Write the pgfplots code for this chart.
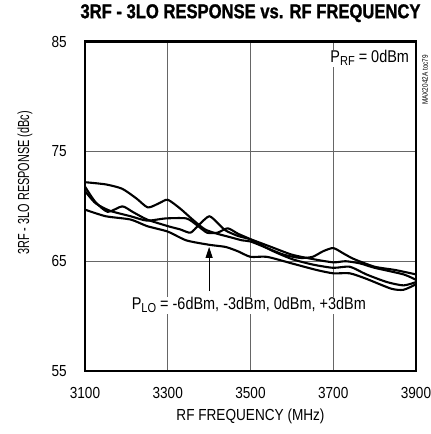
\documentclass[border=0pt]{standalone}
\usepackage{fontspec}
\setmainfont[FakeStretch=0.85]{Liberation Sans}
\newfontfamily\plainfont{Liberation Sans}
\newfontfamily\titlefont[FakeStretch=0.83, FakeBold=1.2]{Liberation Sans Bold}
\usepackage{pgfplots}
\pgfplotsset{compat=1.18}
\usetikzlibrary{arrows.meta}
\begin{document}
\begin{tikzpicture}
\useasboundingbox (-85pt,-63pt) rectangle (346pt,371pt);
\begin{axis}[
  at={(0,0)}, anchor=south west,
  scale only axis, width=331pt, height=329.3pt,
  xmin=3100, xmax=3900, ymin=55, ymax=85,
  xtick={3100,3300,3500,3700,3900}, ytick={55,65,75,85},
  grid=major, major grid style={black!60, line width=0.8pt},
  axis line style={line width=2.4pt},
  major tick length=0pt,
  clip=false,
  tick label style={font=\fontsize{16}{16}\selectfont, inner sep=0pt},
  /pgf/number format/assume math mode=true,
  /pgf/number format/1000 sep={},
  xticklabel style={anchor=center, yshift=-22pt},
  yticklabel style={anchor=east, xshift=-18pt},
  every axis plot/.append style={line width=2.1pt, line join=round, smooth, tension=0.4, mark=none},
  cycle list={black\\black\\black\\black\\},
]
\addplot coordinates {
(3100,72.2) (3150,72.0) (3190,71.6) (3225,70.7) (3252,69.9) (3280,70.3) (3300,70.6)
(3330,69.8) (3360,68.8) (3390,67.9) (3420,67.5) (3450,67.2) (3480,66.9) (3500,66.8)
(3540,66.2) (3580,65.6) (3620,65.3) (3650,65.4) (3675,65.9) (3700,66.2) (3725,65.7)
(3750,65.2) (3800,64.5) (3850,64.2) (3900,63.8)};
\addplot coordinates {
(3100,71.8) (3125,70.4) (3155,69.5) (3190,70.0) (3215,69.5) (3250,68.8) (3300,68.2)
(3330,67.9) (3355,67.6) (3375,68.3) (3400,69.1) (3420,68.5) (3440,67.8) (3470,67.3)
(3500,67.0) (3550,66.3) (3600,65.6) (3650,65.2) (3700,64.9) (3730,65.0) (3765,64.8)
(3800,64.4) (3870,63.8) (3900,63.3)};
\addplot coordinates {
(3100,71.4) (3125,70.3) (3160,69.6) (3210,69.1) (3250,68.7) (3295,68.9) (3345,68.9)
(3370,68.3) (3395,67.6) (3420,67.6) (3445,68.0) (3470,67.5) (3500,67.0) (3550,66.0)
(3600,65.2) (3650,64.7) (3700,64.4) (3740,64.5) (3780,63.8) (3830,63.1) (3870,62.8)
(3900,63.1)};
\addplot coordinates {
(3100,69.7) (3150,69.1) (3210,68.8) (3250,68.2) (3300,67.7) (3345,66.9) (3400,66.5)
(3440,66.3) (3470,65.9) (3500,65.4) (3540,65.4) (3600,64.8) (3660,64.2) (3700,63.9)
(3740,63.9) (3780,63.4) (3840,62.5) (3870,62.4) (3900,62.9)};
% annotations
\draw[line width=1pt, -{Triangle[length=11pt,width=7pt]}] (axis cs:3400,62.3) -- (axis cs:3400,66.3);
\node[fill=white, inner sep=1pt, font=\fontsize{17}{17}\selectfont] at (axis cs:3496,61.0)
  {P\raisebox{-0.3ex}{\fontsize{13}{13}\selectfont LO} = -6dBm, -3dBm, 0dBm, +3dBm};
\node[fill=white, inner sep=1pt, anchor=east, font=\fontsize{17}{17}\selectfont] at (axis cs:3886,83.5)
  {P\raisebox{-0.3ex}{\fontsize{13}{13}\selectfont RF} = 0dBm};
\end{axis}
\node[inner sep=0pt, anchor=center] at (340pt,291pt) {\rotatebox{90}{\plainfont\fontsize{8}{8}\selectfont\scalebox{0.8}[1]{MAX2042A toc79}}};
\node[font=\titlefont\fontsize{20}{20}\selectfont, anchor=base] at (165.5pt,352.8pt) {3RF - 3LO RESPONSE vs. RF FREQUENCY};
\node[inner sep=0pt, anchor=center] at (-60pt,188pt) {\rotatebox{90}{\plainfont\fontsize{16}{16}\selectfont\scalebox{0.68}[1]{3RF - 3LO RESPONSE (dBc)}}};
\node[font=\fontsize{16}{16}\selectfont, anchor=center] at (165.5pt,-45pt) {RF FREQUENCY (MHz)};
\end{tikzpicture}
\end{document}
